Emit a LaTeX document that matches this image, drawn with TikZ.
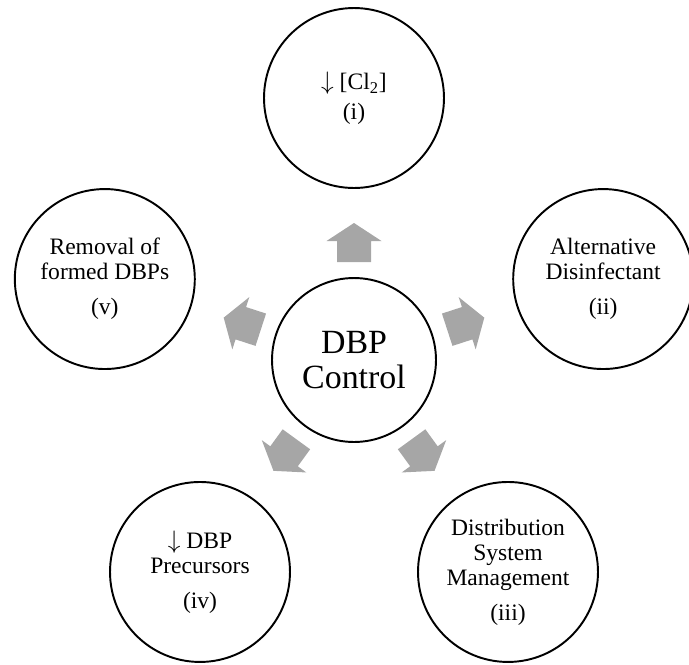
\documentclass[tikz,border=0pt]{standalone}
\usepackage{fontspec}
\setmainfont{Liberation Serif}

\begin{document}
\begin{tikzpicture}[
			x=0.02cm, y=0.02cm,
			outer/.style={circle, draw, line width=1.1pt, minimum size=3.6cm, inner sep=0pt, align=center, font=\fontsize{13.4pt}{14.2pt}\selectfont},
			hub/.style={circle, draw, line width=1.1pt, minimum size=3.28cm, inner sep=0pt, align=center, font=\fontsize{19.3pt}{20.4pt}\selectfont},
			blockarrow/.style={fill=gray!70}]

		\useasboundingbox (-354,-304) rectangle (335,360);

		\node[hub](control) at (0,0) {DBP\\Control};

		\node[outer](cl) at (90:262) {$\downarrow$ [Cl\textsubscript{2}]\\[2.8pt](i)};
		\node[outer](alt) at (18:262) {Alternative\\Disinfectant\\[5.7pt](ii)};
		\node[outer](dist) at (-54:262) {Distribution\\System\\Management\\[5.7pt](iii)};
		\node[outer](prec) at (-126:262) {$\downarrow$ DBP\\Precursors\\[5.7pt](iv)};
		\node[outer](removal) at (162:262) {Removal of\\formed DBPs\\[5.7pt](v)};

		% block arrows pointing out from the hub
		\foreach \a in {90,18,-54,-126,162}
			\fill[blockarrow, rotate=\a] (98,-17) -- (119,-17) -- (119,-27.5) -- (137,0)
				-- (119,27.5) -- (119,17) -- (98,17) -- cycle;
	\end{tikzpicture}
\end{document}
